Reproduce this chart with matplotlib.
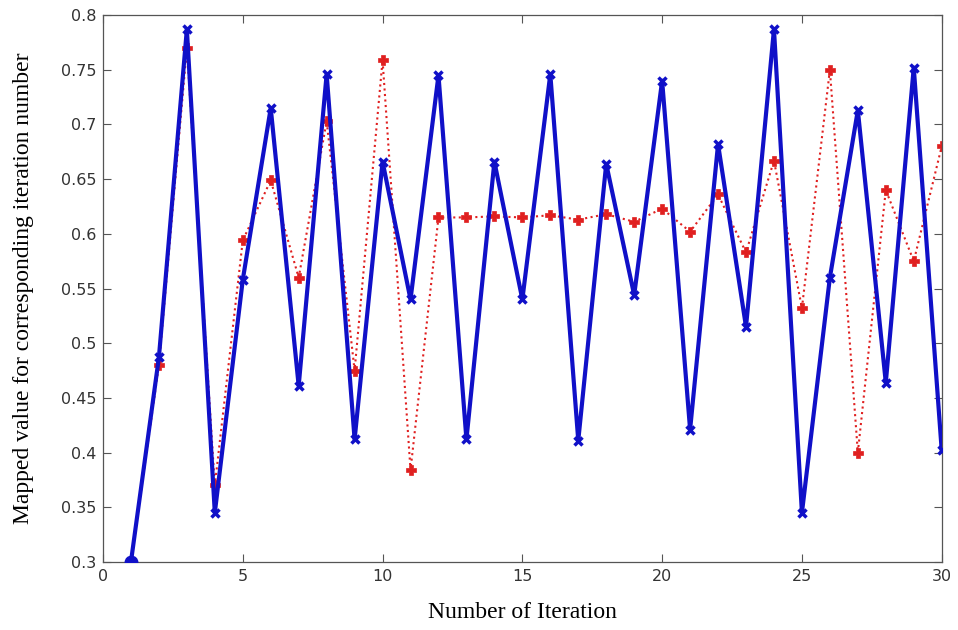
import matplotlib
matplotlib.use('Agg')
import matplotlib.pyplot as plt

iterations = list(range(1, 31))

blue_vals = [0.300, 0.487, 0.787, 0.345, 0.558, 0.715, 0.461, 0.746, 0.412, 0.666,
             0.540, 0.745, 0.412, 0.666, 0.540, 0.746, 0.411, 0.664, 0.544, 0.740,
             0.421, 0.682, 0.515, 0.787, 0.345, 0.560, 0.713, 0.464, 0.752, 0.402]

red_vals = [0.300, 0.480, 0.770, 0.370, 0.594, 0.649, 0.560, 0.703, 0.475, 0.759,
            0.384, 0.615, 0.615, 0.616, 0.615, 0.617, 0.613, 0.618, 0.611, 0.623,
            0.602, 0.636, 0.583, 0.667, 0.532, 0.750, 0.400, 0.640, 0.575, 0.680]

xticks = [0, 5, 10, 15, 20, 25, 30]
yticks = [0.3, 0.35, 0.4, 0.45, 0.5, 0.55, 0.6, 0.65, 0.7, 0.75, 0.8]
ytick_labels = ['0.3', '0.35', '0.4', '0.45', '0.5', '0.55', '0.6', '0.65', '0.7', '0.75', '0.8']

fig = plt.figure(figsize=(9.58, 6.3), dpi=100)
ax = fig.add_axes([0.1075, 0.108, 0.8755, 0.868])

ax.plot(iterations, red_vals, color='#e02020', linestyle=':', linewidth=1.5,
        marker='P', markersize=7, markeredgewidth=0.5, zorder=2)
ax.plot(iterations, blue_vals, color='#1010c8', linestyle='-', linewidth=3,
        marker='x', markersize=6, markeredgewidth=2.5, zorder=3)
# start point drawn as a filled dot
ax.plot(iterations[:1], blue_vals[:1], 'o', color='#1010c8', markersize=9, zorder=4)

ax.set_xlim(0, 30)
ax.set_ylim(0.3, 0.8)
ax.set_xticks(xticks)
ax.set_yticks(yticks)
ax.set_yticklabels(ytick_labels)
ax.tick_params(direction='in', top=True, right=True, length=6, width=0.8,
               labelsize=11.5, colors='#555555', pad=5)
for lab in ax.get_xticklabels() + ax.get_yticklabels():
    lab.set_family('DejaVu Sans')
    lab.set_color('#333333')
for sp in ax.spines.values():
    sp.set_color('#555555')
    sp.set_linewidth(0.9)

ax.set_xlabel('Number of Iteration', family='Liberation Serif', fontsize=17, labelpad=13)
ax.set_ylabel('Mapped value for corresponding iteration number', family='Liberation Serif',
              fontsize=17, labelpad=19)

fig.savefig('out.png', dpi=100)
